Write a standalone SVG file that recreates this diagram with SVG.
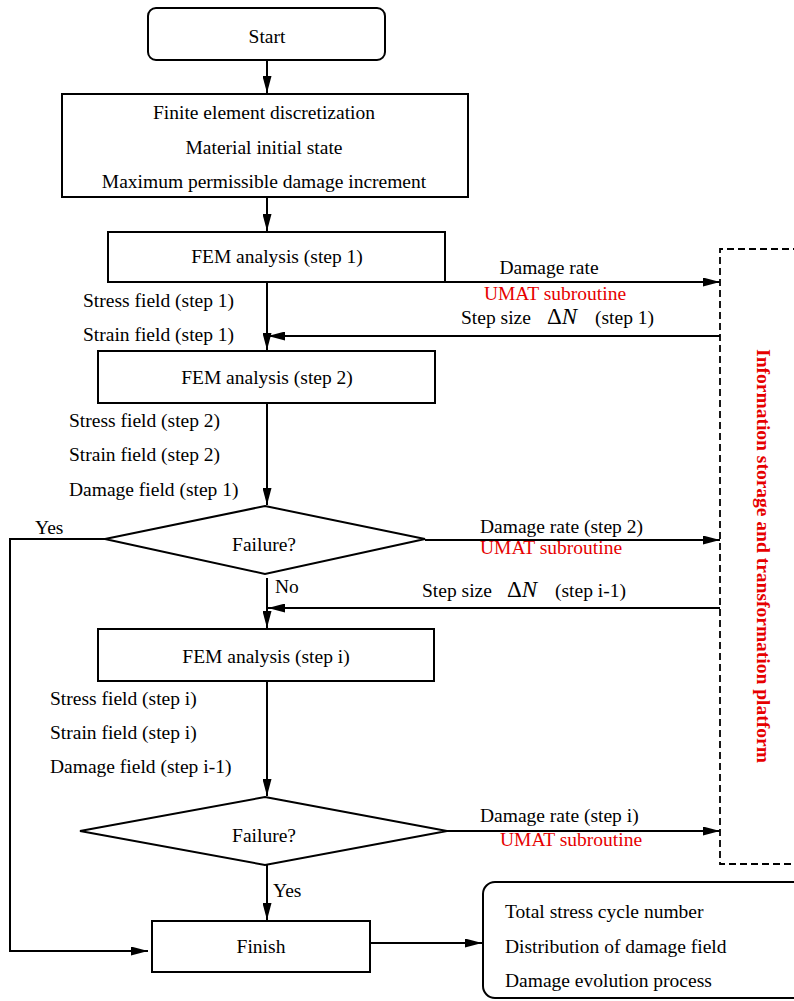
<svg xmlns="http://www.w3.org/2000/svg" width="794" height="1001" viewBox="0 0 794 1001">
<style>
text{font-family:"Liberation Serif","Times New Roman",serif;font-size:19.5px;fill:#000}
.c{text-anchor:middle}
.red{fill:#e60000}
.box{fill:#fff;stroke:#000;stroke-width:2}
.ln{fill:none;stroke:#000;stroke-width:2}
.dash{fill:none;stroke:#000;stroke-width:1.8;stroke-dasharray:7 4}
.dn{font-style:italic;font-size:23px}
.dd{font-size:23px}
</style>
<defs>
<marker id="ah" viewBox="0 0 17 9" refX="17" refY="4.5" markerWidth="17" markerHeight="9" markerUnits="userSpaceOnUse" orient="auto">
<path d="M0,0 L17,4.5 L0,9 Z" fill="#000"/>
</marker>
</defs>
<rect width="794" height="1001" fill="#fff"/>

<g id="connectors">
<line class="ln" x1="267" y1="60" x2="267" y2="93" marker-end="url(#ah)"/>
<line class="ln" x1="267" y1="197" x2="267" y2="231" marker-end="url(#ah)"/>
<line class="ln" x1="445" y1="282" x2="720" y2="282" marker-end="url(#ah)"/>
<line class="ln" x1="720" y1="336" x2="268" y2="336" marker-end="url(#ah)"/>
<line class="ln" x1="267" y1="282" x2="267" y2="350" marker-end="url(#ah)"/>
<line class="ln" x1="267" y1="403" x2="267" y2="505" marker-end="url(#ah)"/>
<polyline class="ln" points="105,539 10,539 10,951 148,951" marker-end="url(#ah)"/>
<line class="ln" x1="425" y1="540" x2="720" y2="540" marker-end="url(#ah)"/>
<line class="ln" x1="267" y1="578" x2="267" y2="628" marker-end="url(#ah)"/>
<line class="ln" x1="720" y1="608" x2="268" y2="608" marker-end="url(#ah)"/>
<line class="ln" x1="267" y1="681" x2="267" y2="796" marker-end="url(#ah)"/>
<line class="ln" x1="447" y1="831" x2="720" y2="831" marker-end="url(#ah)"/>
<line class="ln" x1="267" y1="865" x2="267" y2="920" marker-end="url(#ah)"/>
<line class="ln" x1="366" y1="943" x2="482" y2="943" marker-end="url(#ah)"/>
</g>

<g id="start">
<rect class="box" x="148" y="8" width="237" height="52" rx="8"/>
<text class="c" x="267" y="43">Start</text>
</g>

<g id="init">
<rect class="box" x="62" y="94" width="406" height="103"/>
<text class="c" x="264" y="119">Finite element discretization</text>
<text class="c" x="264" y="154">Material initial state</text>
<text class="c" x="264" y="188">Maximum permissible damage increment</text>
</g>

<g id="fem1">
<rect class="box" x="108" y="232" width="337" height="50"/>
<text class="c" x="277" y="263">FEM analysis (step 1)</text>
</g>
<g id="fields1">
<text x="83" y="307">Stress field (step 1)</text>
<text x="83" y="341">Strain field (step 1)</text>
</g>

<g id="fem2">
<rect class="box" x="98" y="351" width="337" height="52"/>
<text class="c" x="267" y="384">FEM analysis (step 2)</text>
</g>
<g id="fields2">
<text x="69" y="427">Stress field (step 2)</text>
<text x="69" y="461">Strain field (step 2)</text>
<text x="69" y="496">Damage field (step 1)</text>
</g>

<g id="failure1">
<polygon class="box" points="265,506 425,539 265,574 105,539"/>
<text class="c" x="264" y="551">Failure?</text>
</g>
<text x="35" y="534">Yes</text>
<text x="275" y="593">No</text>

<g id="fem-i">
<rect class="box" x="98" y="629" width="336" height="52"/>
<text class="c" x="266" y="663">FEM analysis (step i)</text>
</g>
<g id="fields-i">
<text x="50" y="705">Stress field (step i)</text>
<text x="50" y="739">Strain field (step i)</text>
<text x="50" y="773">Damage field (step i-1)</text>
</g>

<g id="failure2">
<polygon class="box" points="265,797 447,831 265,865 80,831"/>
<text class="c" x="264" y="842">Failure?</text>
</g>
<text x="273" y="897">Yes</text>

<g id="finish">
<rect class="box" x="152" y="921" width="218" height="51"/>
<text class="c" x="261" y="953">Finish</text>
</g>

<g id="results">
<rect class="box" x="483" y="882" width="330" height="116" rx="12"/>
<text x="505" y="918">Total stress cycle number</text>
<text x="505" y="953">Distribution of damage field</text>
<text x="505" y="987">Damage evolution process</text>
</g>

<g id="labels">
<text class="c" x="549" y="274">Damage rate</text>
<text class="c red" x="555" y="300">UMAT subroutine</text>
<text y="324"><tspan x="461">Step size</tspan><tspan x="547" class="dd">Δ</tspan><tspan class="dn">N</tspan><tspan x="595">(step 1)</tspan></text>
<text x="480" y="533">Damage rate (step 2)</text>
<text class="red" x="480" y="554">UMAT subroutine</text>
<text y="597"><tspan x="422">Step size</tspan><tspan x="507" class="dd">Δ</tspan><tspan class="dn">N</tspan><tspan x="555">(step i-1)</tspan></text>
<text x="480" y="822">Damage rate (step i)</text>
<text class="red" x="500" y="846">UMAT subroutine</text>
</g>

<g id="platform">
<path class="dash" d="M800,249 H720 V864 H800"/>
<text class="c red" font-weight="bold" transform="translate(757,556) rotate(90)">Information storage and transformation platform</text>
</g>
</svg>
